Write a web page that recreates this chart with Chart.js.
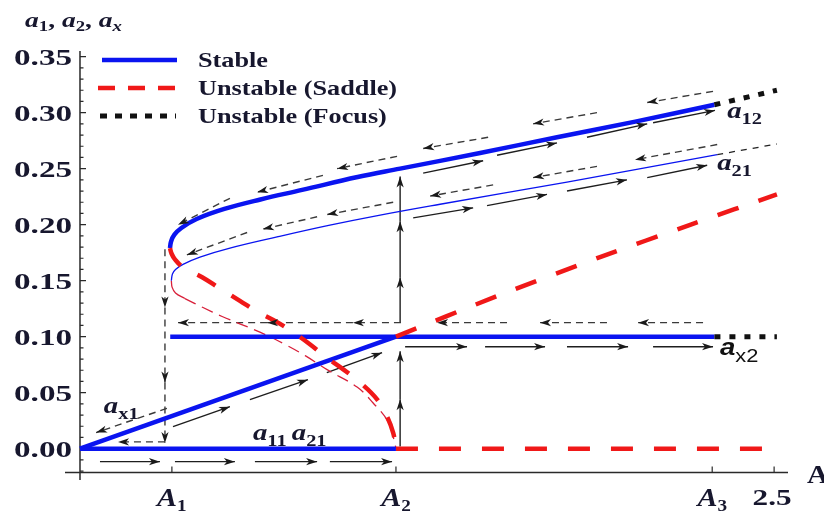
<!DOCTYPE html>
<html>
<head>
<meta charset="utf-8">
<script src="https://cdn.jsdelivr.net/npm/chart.js@4.4.1/dist/chart.umd.min.js"></script>
<style>
  body { margin: 0; background: #fff; }
  #wadah { width: 824px; height: 512px; }
</style>
</head>
<body>
<div id="wadah"><canvas id="grafik" width="824" height="512"></canvas></div>
<script>
// ---- data ----
const xTickValues = [0.331, 1.138, 2.277, 2.5];
const xTickLabels = ['A1', 'A2', 'A3', '2.5'];
const yTickValues = [0, 0.05, 0.10, 0.15, 0.20, 0.25, 0.30, 0.35];
const yTickLabels = ['0.00', '0.05', '0.10', '0.15', '0.20', '0.25', '0.30', '0.35'];

// cabang stabil
const a11X = [0, 1.138];
const a11Y = [0, 0];
const ax1X = [0, 1.138];
const ax1Y = [0, 0.100];
const ax2X = [0.325, 2.285];
const ax2Y = [0.100, 0.100];
const a12X = [0.324, 0.328, 0.340, 0.365, 0.420, 0.520, 0.650, 0.800, 1.000, 1.153, 1.441, 1.718, 2.000, 2.285];
const a12Y = [0.179, 0.185, 0.191, 0.197, 0.205, 0.214, 0.2225, 0.231, 0.2425, 0.250, 0.264, 0.278, 0.292, 0.307];
const a21X = [0.329, 0.333, 0.344, 0.371, 0.432, 0.540, 0.710, 0.900, 1.081, 1.297, 1.754, 2.295];
const a21Y = [0.150, 0.156, 0.160, 0.1645, 0.171, 0.179, 0.189, 0.1995, 0.2085, 0.2182, 0.238, 0.2625];

// cabang tidak stabil (saddle)
const saddleZeroX = [1.138, 2.47];
const saddleZeroY = [0, 0];
const saddleUpX = [1.138, 1.5, 1.873, 2.2, 2.51];
const saddleUpY = [0.100, 0.136, 0.171, 0.200, 0.227];
const saddleFoldX = [0.324, 0.330, 0.342, 0.371, 0.440, 0.504, 0.576, 0.641, 0.710, 0.767, 0.829, 0.890, 0.947, 1.009, 1.070, 1.106, 1.128, 1.138];
const saddleFoldY = [0.179, 0.174, 0.169, 0.162, 0.153, 0.143, 0.132, 0.122, 0.113, 0.104, 0.093, 0.081, 0.071, 0.059, 0.044, 0.0286, 0.014, 0];
const saddleNoseX = [0.329, 0.332, 0.344, 0.378];
const saddleNoseY = [0.150, 0.144, 0.139, 0.134];
const saddleThinX = [0.378, 0.443, 0.512, 0.648, 0.731, 0.811, 0.890, 0.998, 1.055, 1.110, 1.131, 1.138];
const saddleThinY = [0.134, 0.126, 0.118, 0.104, 0.094, 0.083, 0.0705, 0.055, 0.041, 0.024, 0.008, 0];

// cabang tidak stabil (focus)
const focusA12X = [2.285, 2.51];
const focusA12Y = [0.307, 0.320];
const focusAx2X = [2.285, 2.51];
const focusAx2Y = [0.100, 0.100];
const focusA21X = [2.295, 2.51];
const focusA21Y = [0.2625, 0.272];

// panah: [x1, y1, x2, y2]
const rowArrows = [[0.072, -0.0116, 0.288, -0.0116], [0.342, -0.0116, 0.558, -0.0116], [0.630, -0.0116, 0.854, -0.0116], [0.900, -0.0116, 1.124, -0.0116]];
const ax1Arrows = [[0.335, 0.0196, 0.540, 0.0375], [0.612, 0.0438, 0.821, 0.0616], [0.889, 0.0679, 1.088, 0.0857]];
const ax1BackArrows = [[0.313, 0.036, 0.058, 0.0143], [0.306, 0.006, 0.137, 0.006]];
const a1DropArrows = [[0.306, 0.178, 0.306, 0.126], [0.306, 0.126, 0.306, 0.059], [0.306, 0.059, 0.306, 0.005]];
const ax2BackArrows = [[2.244, 0.1125, 2.010, 0.1125], [1.898, 0.1125, 1.657, 0.1125], [1.538, 0.1125, 1.286, 0.1125], [1.156, 0.1125, 0.983, 0.1125], [0.983, 0.1125, 0.674, 0.1125], [0.674, 0.1125, 0.353, 0.1125]];
const a2RiseArrows = [[1.153, 0.002, 1.153, 0.044], [1.153, 0.044, 1.153, 0.087], [1.153, 0.1125, 1.153, 0.153], [1.153, 0.153, 1.153, 0.203], [1.153, 0.203, 1.153, 0.243]];
const ax2Arrows = [[1.171, 0.091, 1.394, 0.091], [1.459, 0.091, 1.675, 0.091], [1.754, 0.091, 1.974, 0.091], [2.064, 0.091, 2.280, 0.091]];
const a12Arrows = [[1.236, 0.246, 1.452, 0.257], [1.502, 0.262, 1.718, 0.273], [1.826, 0.278, 2.043, 0.290], [2.064, 0.291, 2.287, 0.302]];
const a12BackArrows = [[2.280, 0.319, 2.043, 0.309], [1.862, 0.300, 1.632, 0.290], [1.470, 0.278, 1.236, 0.268], [1.142, 0.261, 0.926, 0.250], [0.875, 0.244, 0.638, 0.229], [0.540, 0.2235, 0.353, 0.200]];
const a21Arrows = [[1.200, 0.206, 1.416, 0.215], [1.466, 0.217, 1.682, 0.227], [1.754, 0.230, 1.970, 0.240], [2.043, 0.242, 2.259, 0.253]];
const a21BackArrows = [[2.295, 0.2715, 1.999, 0.258], [1.862, 0.252, 1.632, 0.242], [1.488, 0.2355, 1.261, 0.2255], [1.128, 0.220, 0.890, 0.209], [0.854, 0.207, 0.659, 0.196], [0.602, 0.193, 0.385, 0.173]];

// ---- gaya ----
const BIRU = '#0a14f0';
const MERAH = '#f01818';
const MERAH_TIPIS = '#d8203a';
const TEKS = '#17172e';
const SERIF = '"Liberation Serif", "DejaVu Serif", serif';
const SANS = '"Liberation Sans", Arial, sans-serif';

const titik = (xs, ys) => xs.map((x, i) => ({ x: x, y: ys[i] }));

function garis(xs, ys, warna, tebal, dash, order, tension) {
    return {
        data: titik(xs, ys), showLine: true, borderColor: warna, borderWidth: tebal,
        borderDash: dash || [], pointRadius: 0, tension: tension || 0, order: order, fill: false
    };
}

function panah(seg, putus) {
    return {
        data: [{ x: seg[0], y: seg[1] }, { x: seg[2], y: seg[3] }], showLine: true,
        borderColor: putus ? '#3a3a3a' : '#1e1e1e', borderWidth: 1.4,
        borderDash: putus ? [7, 5] : [], pointRadius: 0, order: 10, panah: true
    };
}

const datasets = [
    garis(a11X, a11Y, BIRU, 4.5, null, 2),
    garis(ax1X, ax1Y, BIRU, 4.5, null, 2),
    garis(ax2X, ax2Y, BIRU, 4.5, null, 2),
    garis(a12X, a12Y, BIRU, 4.5, null, 2, 0.4),
    garis(a21X, a21Y, BIRU, 1.3, null, 3, 0.4),
    garis(saddleZeroX, saddleZeroY, MERAH, 4.5, [22, 21], 1),
    garis(saddleUpX, saddleUpY, MERAH, 4.5, [22, 21], 1, 0.3),
    garis(saddleFoldX, saddleFoldY, MERAH, 4.5, [21, 19], 1, 0.4),
    garis(saddleNoseX, saddleNoseY, MERAH_TIPIS, 1.3, null, 3, 0.4),
    garis(saddleThinX, saddleThinY, MERAH_TIPIS, 1.3, [12, 7], 3, 0.4),
    garis(focusA12X, focusA12Y, '#111', 5, [6, 9], 1),
    garis(focusAx2X, focusAx2Y, '#111', 5, [6, 9], 1),
    garis(focusA21X, focusA21Y, '#222', 1.3, [6, 6], 3)
];
rowArrows.forEach(s => datasets.push(panah(s, false)));
ax1Arrows.forEach(s => datasets.push(panah(s, false)));
ax1BackArrows.forEach(s => datasets.push(panah(s, true)));
a1DropArrows.forEach(s => datasets.push(panah(s, true)));
ax2BackArrows.forEach(s => datasets.push(panah(s, true)));
a2RiseArrows.forEach(s => datasets.push(panah(s, false)));
ax2Arrows.forEach(s => datasets.push(panah(s, false)));
a12Arrows.forEach(s => datasets.push(panah(s, false)));
a12BackArrows.forEach(s => datasets.push(panah(s, true)));
a21Arrows.forEach(s => datasets.push(panah(s, false)));
a21BackArrows.forEach(s => datasets.push(panah(s, true)));

// teks dengan subskrip, diregangkan mendatar seperti gambar aslinya
function teksKaya(ctx, x, y, bagian, sx, rata) {
    ctx.save();
    let lebar = 0;
    bagian.forEach(b => { ctx.font = b.f; lebar += ctx.measureText(b.t).width; });
    let geser = rata === 'right' ? lebar * sx : rata === 'center' ? lebar * sx / 2 : 0;
    ctx.translate(x - geser, y);
    ctx.scale(sx, 1);
    let cx = 0;
    bagian.forEach(b => {
        ctx.font = b.f;
        ctx.fillText(b.t, cx, b.dy || 0);
        cx += ctx.measureText(b.t).width;
    });
    ctx.restore();
}

const sumbuPlugin = {
    id: 'sumbu',
    beforeDatasetsDraw(chart) {
        const ctx = chart.ctx, sx = chart.scales.x, sy = chart.scales.y;
        const x0 = sx.getPixelForValue(0), yb = sy.getPixelForValue(-0.0214);
        ctx.save();
        ctx.strokeStyle = '#2a2a2a';
        ctx.lineWidth = 1.5;
        ctx.beginPath();
        ctx.moveTo(x0, sy.getPixelForValue(0.355));
        ctx.lineTo(x0, sy.getPixelForValue(-0.028));
        ctx.moveTo(sx.getPixelForValue(-0.054), yb);
        ctx.lineTo(sx.getPixelForValue(2.55), yb);
        ctx.stroke();
        ctx.lineWidth = 1.2;
        ctx.beginPath();
        for (let k = -2; k <= 35; k++) {
            const py = sy.getPixelForValue(k / 100);
            const pj = k % 5 === 0 ? 6 : 3.5;
            ctx.moveTo(x0, py);
            ctx.lineTo(x0 + pj, py);
        }
        xTickValues.forEach(v => {
            const px = sx.getPixelForValue(v);
            ctx.moveTo(px, yb);
            ctx.lineTo(px, yb - 6);
        });
        ctx.stroke();
        ctx.restore();
    },
    afterDatasetsDraw(chart) {
        const ctx = chart.ctx, sx = chart.scales.x, sy = chart.scales.y;
        // kepala panah
        chart.data.datasets.forEach((ds, i) => {
            if (!ds.panah) return;
            const m = chart.getDatasetMeta(i).data;
            const p1 = m[0], p2 = m[m.length - 1];
            const sudut = Math.atan2(p2.y - p1.y, p2.x - p1.x);
            ctx.save();
            ctx.translate(p2.x, p2.y);
            ctx.rotate(sudut);
            ctx.beginPath();
            ctx.moveTo(0, 0);
            ctx.lineTo(-11, -3.6);
            ctx.lineTo(-8, 0);
            ctx.lineTo(-11, 3.6);
            ctx.closePath();
            ctx.fillStyle = '#1a1a1a';
            ctx.fill();
            ctx.restore();
        });

        ctx.save();
        ctx.fillStyle = TEKS;
        ctx.textBaseline = 'alphabetic';
        // label sumbu y
        yTickValues.forEach((v, i) => {
            teksKaya(ctx, 72, sy.getPixelForValue(v) + 8.5, [{ t: yTickLabels[i], f: 'bold 24px ' + SERIF }], 1.38, 'right');
        });
        // label sumbu x
        xTickValues.forEach((v, i) => {
            const lab = xTickLabels[i];
            const px = sx.getPixelForValue(v);
            if (lab[0] === 'A') {
                teksKaya(ctx, px, 506, [{ t: 'A', f: 'italic bold 25px ' + SERIF }, { t: lab.slice(1), f: 'bold 16px ' + SERIF, dy: 5 }], 1.2, 'center');
            } else {
                teksKaya(ctx, px - 2, 505, [{ t: lab, f: 'bold 24px ' + SERIF }], 1.3, 'center');
            }
        });
        teksKaya(ctx, 807, 483, [{ t: 'A', f: 'bold 25px ' + SERIF }], 1.2, 'left');
        // judul sumbu y
        const ia = 'italic bold 22px ' + SERIF, sub = 'bold 15px ' + SERIF;
        teksKaya(ctx, 25, 27, [
            { t: 'a', f: ia }, { t: '1', f: sub, dy: 4 }, { t: ', ', f: 'bold 22px ' + SERIF },
            { t: 'a', f: ia }, { t: '2', f: sub, dy: 4 }, { t: ', ', f: 'bold 22px ' + SERIF },
            { t: 'a', f: ia }, { t: 'x', f: 'italic bold 15px ' + SERIF, dy: 4 }
        ], 1.25, 'left');

        // label kurva
        const la = 'italic bold 24px ' + SERIF, ls = 'bold 17px ' + SERIF;
        teksKaya(ctx, sx.getPixelForValue(2.331), sy.getPixelForValue(0.2955), [{ t: 'a', f: la }, { t: '12', f: ls, dy: 6 }], 1.2, 'left');
        teksKaya(ctx, sx.getPixelForValue(2.295), sy.getPixelForValue(0.249), [{ t: 'a', f: la }, { t: '21', f: ls, dy: 6 }], 1.2, 'left');
        teksKaya(ctx, sx.getPixelForValue(0.086), sy.getPixelForValue(0.032), [{ t: 'a', f: la }, { t: 'x1', f: ls, dy: 6 }], 1.2, 'left');
        teksKaya(ctx, sx.getPixelForValue(0.623), sy.getPixelForValue(0.008), [{ t: 'a', f: la }, { t: '11 ', f: ls, dy: 6 }, { t: 'a', f: la }, { t: '21', f: ls, dy: 6 }], 1.2, 'left');
        ctx.fillStyle = '#111';
        teksKaya(ctx, sx.getPixelForValue(2.305), sy.getPixelForValue(0.084), [{ t: 'a', f: 'italic bold 24px ' + SANS }, { t: 'x2', f: '19px ' + SANS, dy: 7 }], 1.15, 'left');
        ctx.restore();

        // legenda
        ctx.save();
        ctx.lineWidth = 4.5;
        ctx.strokeStyle = BIRU;
        ctx.beginPath(); ctx.moveTo(102, 60); ctx.lineTo(177, 60); ctx.stroke();
        ctx.strokeStyle = MERAH;
        ctx.setLineDash([17, 13]);
        ctx.beginPath(); ctx.moveTo(98, 88); ctx.lineTo(176, 88); ctx.stroke();
        ctx.strokeStyle = '#111';
        ctx.lineWidth = 5;
        ctx.setLineDash([7, 8]);
        ctx.beginPath(); ctx.moveTo(100, 116); ctx.lineTo(176, 116); ctx.stroke();
        ctx.setLineDash([]);
        ctx.fillStyle = TEKS;
        const lf = 'bold 21px ' + SERIF;
        teksKaya(ctx, 198, 67, [{ t: 'Stable', f: lf }], 1.25, 'left');
        teksKaya(ctx, 198, 95, [{ t: 'Unstable (Saddle)', f: lf }], 1.25, 'left');
        teksKaya(ctx, 198, 123, [{ t: 'Unstable (Focus)', f: lf }], 1.25, 'left');
        ctx.restore();
    }
};

new Chart(document.getElementById('grafik'), {
    type: 'scatter',
    data: { datasets: datasets },
    options: {
        responsive: false,
        animation: false,
        devicePixelRatio: 1,
        events: [],
        layout: { padding: { left: 65, right: 36, top: 46, bottom: 32 } },
        plugins: { legend: { display: false }, tooltip: { enabled: false } },
        scales: {
            x: { type: 'linear', min: -0.054, max: 2.55, display: false },
            y: { type: 'linear', min: -0.028, max: 0.3595, display: false }
        }
    },
    plugins: [sumbuPlugin]
});
</script>
</body>
</html>
